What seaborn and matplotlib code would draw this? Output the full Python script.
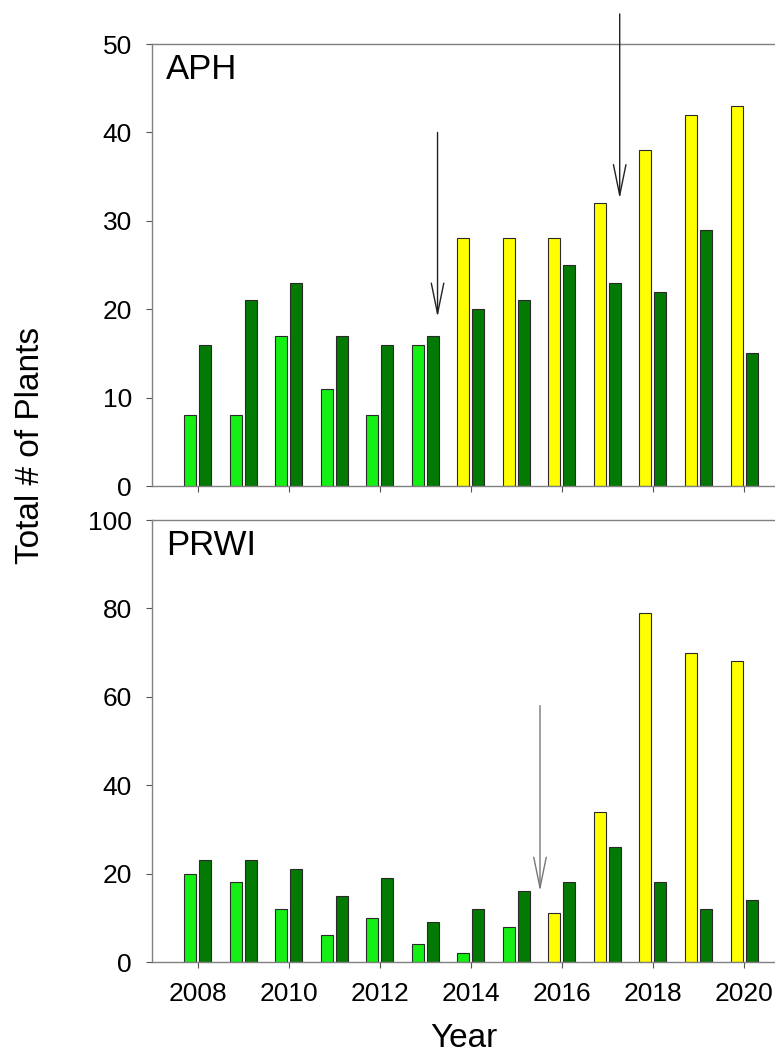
import numpy as np
import pandas as pd
import matplotlib
matplotlib.use("Agg")
import matplotlib.pyplot as plt
import seaborn as sns

# data
years = list(range(2008, 2021))

aph_first = [8, 8, 17, 11, 8, 16, 28, 28, 28, 32, 38, 42, 43]
aph_second = [16, 21, 23, 17, 16, 17, 20, 21, 25, 23, 22, 29, 15]
aph_yellow_from = 2014

prwi_first = [20, 18, 12, 6, 10, 4, 2, 8, 11, 34, 79, 70, 68]
prwi_second = [23, 23, 21, 15, 19, 9, 12, 16, 18, 26, 18, 12, 14]
prwi_yellow_from = 2016

# arrows: (x, y_start, y_tip)
aph_arrows = [(2013.27, 40, 19.1), (2017.27, 53.4, 32.5)]
prwi_arrows = [(2015.52, 58, 16)]

light_green = "#14f014"
dark_green = "#037a03"
yellow = "#ffff00"

sns.set_style("ticks")
plt.rcParams["font.family"] = ["Liberation Sans", "DejaVu Sans"]
plt.rcParams["text.color"] = "black"
plt.rcParams["axes.labelcolor"] = "black"
plt.rcParams["xtick.labelcolor"] = "black"
plt.rcParams["ytick.labelcolor"] = "black"

fig = plt.figure(figsize=(7.75, 10.64), dpi=100)
ax1 = fig.add_axes([152 / 775, 1 - 486 / 1064, 623 / 775, 442 / 1064])
ax2 = fig.add_axes([152 / 775, 1 - 962 / 1064, 623 / 775, 442 / 1064])


def panel(ax, first, second, yellow_from, arrows, label, ymax, ystep, arrow_color):
    df = pd.DataFrame({
        "year": years * 2,
        "count": first + second,
        "series": ["a"] * len(years) + ["b"] * len(years),
    })
    sns.barplot(data=df, x="year", y="count", hue="series", native_scale=True,
                dodge=True, width=0.66, gap=0.2, saturation=1,
                palette={"a": light_green, "b": dark_green},
                edgecolor="#2a2a2a", linewidth=0.8, legend=False, ax=ax)
    # recolor first series after treatment year
    for bar, yr in zip(ax.containers[0], years):
        if yr >= yellow_from:
            bar.set_facecolor(yellow)

    for x, y0, y1 in arrows:
        ax.annotate("", xy=(x, y1), xytext=(x, y0), annotation_clip=False,
                    arrowprops=dict(arrowstyle="->,head_length=2.2,head_width=0.45",
                                    color=arrow_color, lw=1.0,
                                    shrinkA=0, shrinkB=0, mutation_scale=10))

    ax.set_xlim(2007.0, 2020.68)
    ax.set_ylim(0, ymax)
    ax.set_yticks(np.arange(0, ymax + 1, ystep))
    ax.set_xticks(range(2008, 2021, 2))
    ax.set_xlabel("")
    ax.set_ylabel("")
    ax.text(0.022, 0.98, label, transform=ax.transAxes, fontsize=25,
            ha="left", va="top")
    for s in ["left", "top", "bottom"]:
        ax.spines[s].set_color("#808080")
        ax.spines[s].set_linewidth(1.0)
    ax.spines["right"].set_visible(False)
    ax.tick_params(axis="both", direction="out", length=4.5, width=0.8,
                   color="#555555", labelcolor="black", labelsize=19, pad=10)


panel(ax1, aph_first, aph_second, aph_yellow_from, aph_arrows, "APH", 50, 10, "#222222")
panel(ax2, prwi_first, prwi_second, prwi_yellow_from, prwi_arrows, "PRWI", 100, 20, "#777777")

ax1.tick_params(axis="x", labelbottom=False)
ax2.set_xlabel("Year", fontsize=24, labelpad=12)
fig.text(0.04, 1 - 445 / 1064, "Total # of Plants", rotation=90, fontsize=24,
         ha="center", va="center")

fig.savefig("out.png", dpi=100)
